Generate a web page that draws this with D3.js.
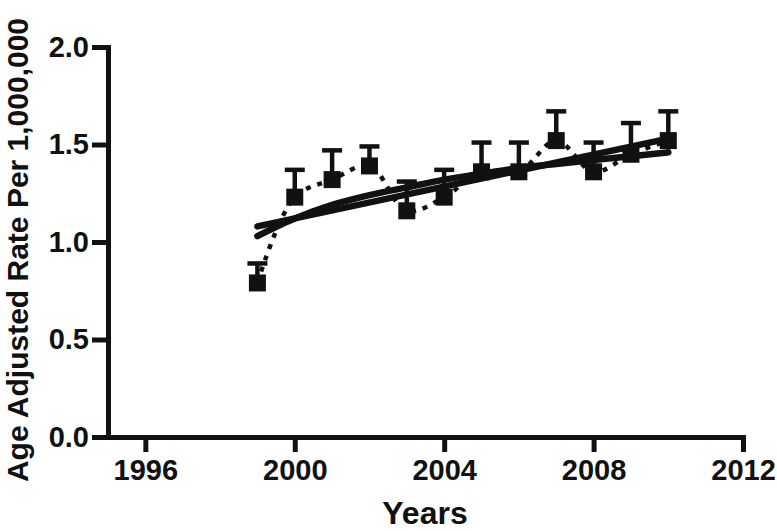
<!DOCTYPE html>
<html>
<head>
<script src="https://d3js.org/d3.v7.min.js"></script>
<style>
  body { margin: 0; background: #fff; }
  svg { display: block; }
  text { font-family: "Liberation Sans", Arial, Helvetica, sans-serif; font-weight: bold; fill: #111; }
</style>
</head>
<body>
<script>
// data
const years = [1999, 2000, 2001, 2002, 2003, 2004, 2005, 2006, 2007, 2008, 2009, 2010];
const rates = [0.79, 1.23, 1.32, 1.39, 1.16, 1.23, 1.36, 1.36, 1.52, 1.36, 1.45, 1.52];
const errUp = [0.10, 0.14, 0.15, 0.10, 0.15, 0.14, 0.15, 0.15, 0.15, 0.15, 0.16, 0.15];
// linear fit line (end points)
const linYears = [1999, 2010];
const linVals = [1.08, 1.53];
// curved fit line
const curveYears = [1999, 2000, 2001, 2002, 2003, 2004, 2005, 2006, 2007, 2008, 2009, 2010];
const curveVals = [1.03, 1.12, 1.19, 1.24, 1.28, 1.32, 1.35, 1.38, 1.40, 1.42, 1.44, 1.46];
const xTicks = [1996, 2000, 2004, 2008, 2012];
const yTicks = [0, 0.5, 1.0, 1.5, 2.0];

const W = 777, H = 531;
const svg = d3.select("body").append("svg").attr("width", W).attr("height", H);

const x = d3.scaleLinear().domain([1995, 2012]).range([108, 743]);
const y = d3.scaleLinear().domain([0, 2]).range([437, 47]);

// axes
const yAxis = svg.append("g")
  .attr("transform", "translate(108,0)")
  .call(d3.axisLeft(y).tickValues(yTicks).tickFormat(d3.format(".1f"))
    .tickSize(16).tickSizeOuter(0).tickPadding(3));
const xAxis = svg.append("g")
  .attr("transform", "translate(0,437)")
  .call(d3.axisBottom(x).tickValues(xTicks).tickFormat(d3.format("d"))
    .tickSize(15).tickSizeOuter(0).tickPadding(7));

[yAxis, xAxis].forEach(g => {
  g.select(".domain").attr("stroke", "#111").attr("stroke-width", 5).attr("stroke-linecap", "square");
  g.selectAll(".tick line").attr("stroke", "#111").attr("stroke-width", 5);
  g.selectAll(".tick text").style("font-size", "29px").attr("fill", "#111");
});

// fit lines
svg.append("path")
  .datum(linYears.map((d, i) => [d, linVals[i]]))
  .attr("d", d3.line().x(d => x(d[0])).y(d => y(d[1])))
  .attr("fill", "none").attr("stroke", "#111").attr("stroke-width", 6.5).attr("stroke-linecap", "round");

svg.append("path")
  .datum(curveYears.map((d, i) => [d, curveVals[i]]))
  .attr("d", d3.line().x(d => x(d[0])).y(d => y(d[1])).curve(d3.curveMonotoneX))
  .attr("fill", "none").attr("stroke", "#111").attr("stroke-width", 6.5).attr("stroke-linecap", "round");

// dotted connecting spline
svg.append("path")
  .datum(years.map((d, i) => [d, rates[i]]))
  .attr("d", d3.line().x(d => x(d[0])).y(d => y(d[1])).curve(d3.curveCatmullRom))
  .attr("fill", "none").attr("stroke", "#111").attr("stroke-width", 4.5)
  .attr("stroke-dasharray", "5,7");

// error bars (upper only)
const pts = years.map((d, i) => ({ year: d, v: rates[i], e: errUp[i] }));
const eb = svg.append("g").selectAll("g").data(pts).join("g");
eb.append("line")
  .attr("x1", d => x(d.year)).attr("x2", d => x(d.year))
  .attr("y1", d => y(d.v)).attr("y2", d => y(d.v + d.e))
  .attr("stroke", "#111").attr("stroke-width", 4.5);
eb.append("line")
  .attr("x1", d => x(d.year) - 10).attr("x2", d => x(d.year) + 10)
  .attr("y1", d => y(d.v + d.e)).attr("y2", d => y(d.v + d.e))
  .attr("stroke", "#111").attr("stroke-width", 4.5);

// squares
svg.append("g").selectAll("rect").data(pts).join("rect")
  .attr("x", d => x(d.year) - 8.5).attr("y", d => y(d.v) - 8.5)
  .attr("width", 17).attr("height", 17).attr("fill", "#111");

// titles
svg.append("text")
  .attr("transform", "translate(28,250) rotate(-90)")
  .attr("text-anchor", "middle")
  .style("font-size", "30px")
  .text("Age Adjusted Rate Per 1,000,000");

svg.append("text")
  .attr("x", 425).attr("y", 524)
  .attr("text-anchor", "middle")
  .style("font-size", "32px")
  .text("Years");
</script>
</body>
</html>
